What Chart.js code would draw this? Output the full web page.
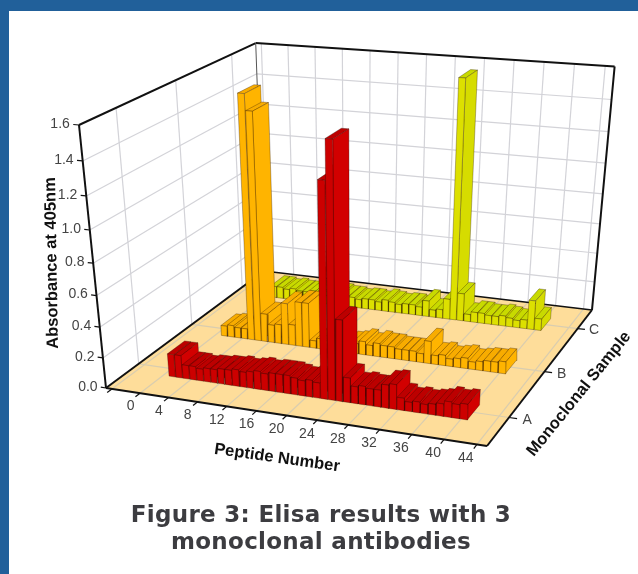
<!DOCTYPE html>
<html>
<head>
<meta charset="utf-8">
<title>Figure 3</title>
<script src="https://cdn.jsdelivr.net/npm/chart.js@4"></script>
<style>
  html, body { margin: 0; padding: 0; background: #fff; width: 638px; height: 574px; overflow: hidden; }
  #top-bar { position: absolute; left: 0; top: 0; width: 638px; height: 11px; background: #21609a; }
  #left-bar { position: absolute; left: 0; top: 0; width: 9px; height: 574px; background: #21609a; }
  #chart { position: absolute; left: 0; top: 0; }
  #caption {
    position: absolute; left: 9px; top: 501px; width: 624px; text-align: center;
    font: bold 23px/27px "DejaVu Sans", sans-serif; letter-spacing: 0.3px; color: #3c3c40;
  }
</style>
</head>
<body>
<div id="top-bar"></div>
<div id="left-bar"></div>
<canvas id="chart" width="638" height="574"></canvas>
<div id="caption">Figure 3: Elisa results with 3<br>monoclonal antibodies</div>
<script>
(function () {
  var peptideTicks = [0, 4, 8, 12, 16, 20, 24, 28, 32, 36, 40, 44];
  var absorbanceTicks = [0.0, 0.2, 0.4, 0.6, 0.8, 1.0, 1.2, 1.4, 1.6];
  var sampleLabels = ["A", "B", "C"];

  // absorbance per well, first bar sits just right of the "0" tick
  var sampleA = [
    0.15, 0.15, 0.09, 0.09, 0.08, 0.09, 0.09, 0.10, 0.10, 0.11,
    0.10, 0.11, 0.12, 0.11, 0.12, 0.12, 0.12, 0.11, 0.10, 0.11,
    0.10, 1.33, 1.56, 0.52, 0.16, 0.11, 0.12, 0.11, 0.11, 0.15,
    0.16, 0.08, 0.06, 0.07, 0.06, 0.07, 0.08, 0.10, 0.09, 0.10,
  ];
  var sampleB = [
    0.07, 0.08, 0.07, 0.07, 1.58, 1.48, 0.19, 0.12, 0.13, 0.28,
    0.14, 0.30, 0.30, 0.05, 0.07, 0.06, 0.05, 0.05, 0.06, 0.07,
    0.09, 0.07, 0.09, 0.08, 0.08, 0.07, 0.07, 0.07, 0.06, 0.15,
    0.06, 0.07, 0.05, 0.06, 0.07, 0.05, 0.06, 0.07, 0.07, 0.08,
  ];
  var sampleC = [
    0.08, 0.08, 0.07, 0.08, 0.07, 0.07, 0.08, 0.07, 0.06, 0.07,
    0.08, 0.07, 0.07, 0.06, 0.07, 0.07, 0.06, 0.08, 0.07, 0.06,
    0.07, 0.07, 0.06, 0.11, 0.05, 0.06, 0.14, 1.58, 0.19, 0.05,
    0.07, 0.07, 0.06, 0.06, 0.07, 0.06, 0.05, 0.06, 0.20, 0.08,
  ];

  var rows = [
    { values: sampleC, v: 0.84, front: "#dde000", side: "#d6dc00", top: "#c8da00" },
    { values: sampleB, v: 0.50, front: "#ffb400", side: "#ffb400", top: "#f8ac00" },
    { values: sampleA, v: 0.18, front: "#cc0000", side: "#d20000", top: "#bc0000" },
  ];

  // box corners on screen, used to fit the perspective
  var O = [106, 388], U = [487, 446], V = [264, 271], UV = [592, 310], W = [79, 125];
  var c3 = -0.097;

  function fit(i) {
    var a = UV[0] - U[0], b = UV[0] - V[0], e = U[0] + V[0] - UV[0] - O[0];
    var c = UV[1] - U[1], d = UV[1] - V[1], f = U[1] + V[1] - UV[1] - O[1];
    var det = a * d - b * c;
    var c1 = (e * d - b * f) / det;
    var c2 = (a * f - e * c) / det;
    return {
      c1: c1, c2: c2, c3: c3,
      a0: O[i],
      a1: U[i] * (1 + c1) - O[i],
      a2: V[i] * (1 + c2) - O[i],
      a3: W[i] * (1 + c3) - O[i],
    };
  }
  var px = fit(0), py = fit(1);

  function project(u, v, w) {
    var den = 1 + px.c1 * u + px.c2 * v + px.c3 * w;
    return {
      x: (px.a0 + px.a1 * u + px.a2 * v + px.a3 * w) / den,
      y: (py.a0 + py.a1 * u + py.a2 * v + py.a3 * w) / den,
    };
  }
  function uOf(peptide) { return 0.0968 + 0.01998 * peptide; }
  function wOf(abs) { return abs / 1.6; }

  var drawList = [];
  function poly(points, fill, edge, width) {
    drawList.push({
      data: points,
      showLine: true,
      pointRadius: 0,
      borderWidth: width,
      borderColor: edge,
      backgroundColor: fill || "transparent",
      fill: fill ? "shape" : false,
      tension: 0,
    });
  }
  function line(a, b, color, width) { poly([a, b], null, color, width); }

  // walls and floor
  poly([project(0, 0, 0), project(1, 0, 0), project(1, 1, 0), project(0, 1, 0), project(0, 0, 0)], "#fedd9a", "#fedd9a", 0);

  var wallGrid = "#d3d3d8", floorGrid = "#d9cdb0";
  absorbanceTicks.forEach(function (a) {
    if (a === 0 || a === 1.6) return;
    line(project(0, 0, wOf(a)), project(0, 1, wOf(a)), wallGrid, 1.2);
    line(project(0, 1, wOf(a)), project(1, 1, wOf(a)), wallGrid, 1.2);
  });
  [-4].concat(peptideTicks).forEach(function (p) {
    line(project(uOf(p), 1, 0), project(uOf(p), 1, 1), wallGrid, 1.2);
    line(project(uOf(p), 0, 0), project(uOf(p), 1, 0), floorGrid, 1.2);
  });
  rows.forEach(function (r) {
    line(project(0, r.v, 0), project(0, r.v, 1), wallGrid, 1.2);
    line(project(0, r.v, 0), project(1, r.v, 0), floorGrid, 1.2);
  });

  // box frame and tick marks
  var frame = "#111111";
  line(project(0, 0, 0), project(0, 0, 1), frame, 2);
  line(project(0, 0, 1), project(0, 1, 1), frame, 2);
  line(project(0, 1, 1), project(1, 1, 1), frame, 2);
  line(project(1, 1, 1), project(1, 1, 0), frame, 2);
  line(project(0, 1, 0), project(0, 1, 1), "#555555", 1);
  line(project(0, 0, 0), project(1, 0, 0), frame, 2);
  line(project(1, 0, 0), project(1, 1, 0), frame, 2);
  line(project(0, 0, 0), project(0, 1, 0), frame, 2);
  line(project(0, 1, 0), project(1, 1, 0), frame, 1.6);
  [-4].concat(peptideTicks).forEach(function (p) {
    line(project(uOf(p), 0, 0), project(uOf(p), -0.025, 0), frame, 1.2);
  });
  absorbanceTicks.forEach(function (a) {
    line(project(0, 0, wOf(a)), project(-0.015, 0, wOf(a)), frame, 1.2);
  });
  rows.forEach(function (r) {
    line(project(1, r.v, 0), project(1.02, r.v, 0), frame, 1.2);
  });

  // bars, back row first and left to right
  var edge = "rgba(30,10,0,0.6)";
  rows.forEach(function (r) {
    var v0 = r.v - 0.05, v1 = r.v + 0.05;
    r.values.forEach(function (val, i) {
      var u0 = uOf(i + 0.84), u1 = uOf(i + 1.76), w = wOf(val);
      poly([project(u0, v0, w), project(u1, v0, w), project(u1, v1, w), project(u0, v1, w), project(u0, v0, w)], r.top, edge, 0.5);
      poly([project(u1, v0, 0), project(u1, v1, 0), project(u1, v1, w), project(u1, v0, w), project(u1, v0, 0)], r.side, edge, 0.5);
      poly([project(u0, v0, 0), project(u1, v0, 0), project(u1, v0, w), project(u0, v0, w), project(u0, v0, 0)], r.front, edge, 0.5);
    });
  });

  var axisText = {
    id: "axisText",
    afterDatasetsDraw: function (chart) {
      var ctx = chart.ctx, sx = chart.scales.x, sy = chart.scales.y;
      function put(p, text, font, color, angle, align) {
        ctx.save();
        ctx.translate(sx.getPixelForValue(p.x), sy.getPixelForValue(p.y));
        ctx.rotate((angle || 0) * Math.PI / 180);
        ctx.font = font;
        ctx.fillStyle = color;
        ctx.textAlign = align || "center";
        ctx.textBaseline = "middle";
        ctx.fillText(text, 0, 0);
        ctx.restore();
      }
      var tickFont = '14px "Liberation Sans", Arial, sans-serif';
      var titleFont = 'bold 16.5px "Liberation Sans", Arial, sans-serif';
      var grey = "#444444";
      peptideTicks.forEach(function (p) {
        put(project(uOf(p) + (44 - p) * 0.0004, -0.085, 0), String(p), tickFont, grey);
      });
      absorbanceTicks.forEach(function (a) {
        put(project(-0.024, 0, wOf(a)), a.toFixed(1), tickFont, grey, 0, "right");
      });
      sampleLabels.forEach(function (s, i) {
        put(project(1.045, rows[2 - i].v, 0), s, tickFont, grey);
      });
      put({ x: 52, y: 263 }, "Absorbance at 405nm", titleFont, "#111111", -91);
      put({ x: 277, y: 458 }, "Peptide Number", titleFont, "#111111", 8);
      put({ x: 579, y: 394 }, "Monoclonal Sample", titleFont, "#111111", -51);
    },
  };

  new Chart(document.getElementById("chart"), {
    type: "scatter",
    // first dataset is painted last, so hand them over reversed
    data: { datasets: drawList.slice().reverse() },
    options: {
      responsive: false,
      animation: false,
      events: [],
      layout: { padding: 0 },
      plugins: { legend: { display: false }, tooltip: { enabled: false } },
      scales: {
        x: { type: "linear", min: 0, max: 638, display: false },
        y: { type: "linear", min: 0, max: 574, reverse: true, display: false },
      },
    },
    plugins: [axisText],
  });
})();
</script>
</body>
</html>
